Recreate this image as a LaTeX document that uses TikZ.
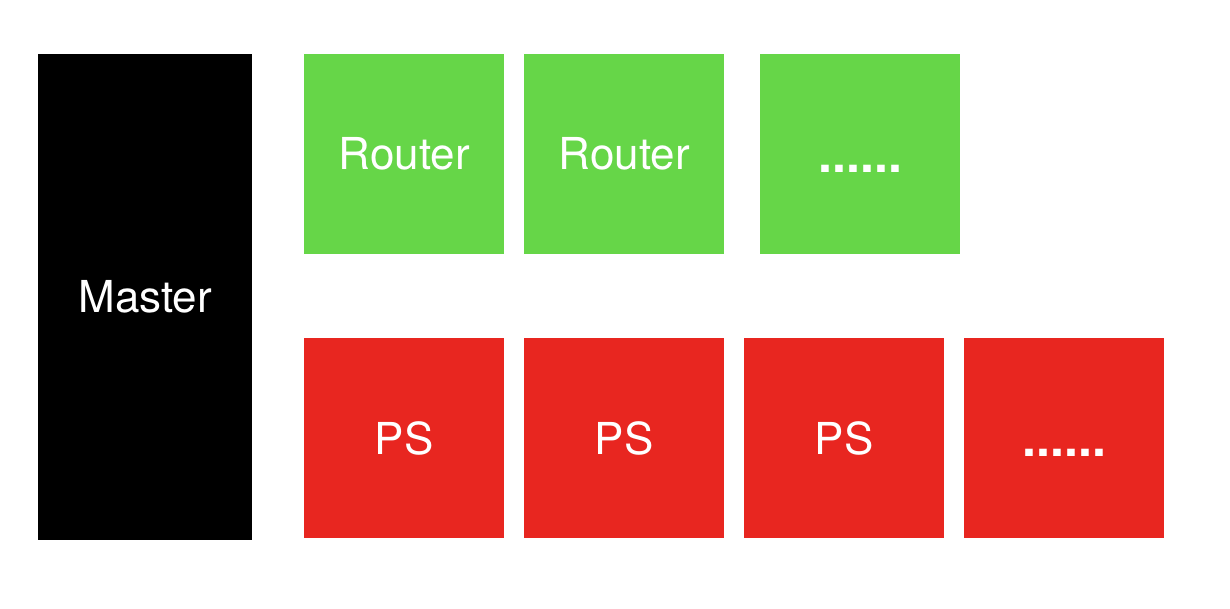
\documentclass[tikz,border=0pt]{standalone}
\usepackage{fontspec}
\setmainfont{TeX Gyre Heros}
\definecolor{rgreen}{RGB}{102,214,72}
\definecolor{pred}{RGB}{232,38,32}
\newcommand{\mydots}{{\fontsize{50}{52}\selectfont\bfseries\vphantom{PS}......}}
\begin{document}
\begin{tikzpicture}[x=1pt,y=-1pt,
  blk/.style={draw=none,inner sep=0pt,anchor=north west,text=white,
    font=\fontsize{44}{52}\selectfont},
  routerbox/.style={blk,fill=rgreen,minimum width=200pt,minimum height=200pt},
  psbox/.style={blk,fill=pred,minimum width=200pt,minimum height=200pt},
  masterbox/.style={blk,fill=black,minimum width=214pt,minimum height=486pt}]
\useasboundingbox (0,0) rectangle (1230,608);
\node[masterbox] (master) at (38,54) {Master};
\node[routerbox] (r1) at (304,54) {Router};
\node[routerbox] (r2) at (524,54) {Router};
\node[routerbox] (r3) at (760,54) {\mydots};
\node[psbox] (p1) at (304,338) {PS};
\node[psbox] (p2) at (524,338) {PS};
\node[psbox] (p3) at (744,338) {PS};
\node[psbox] (p4) at (964,338) {\mydots};
\end{tikzpicture}
\end{document}
